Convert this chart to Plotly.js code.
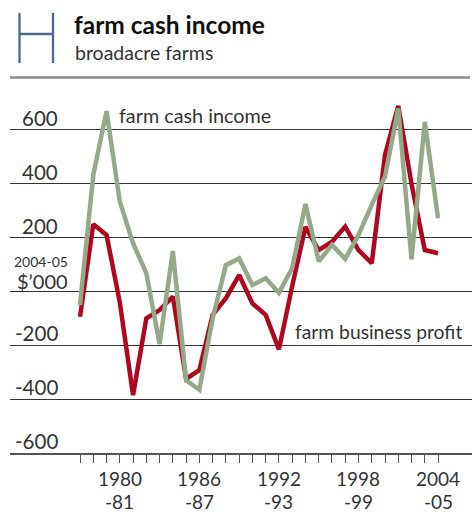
<!DOCTYPE html>
<html>
<head>
<meta charset="utf-8">
<script src="https://cdn.plot.ly/plotly-3.0.1.min.js"></script>
<style>html,body{margin:0;padding:0;background:#fff;}#chart{width:473px;height:512px;}</style>
</head>
<body>
<div id="chart"></div>
<script>
// ---- data ----
const years = [1977,1978,1979,1980,1981,1982,1983,1984,1985,1986,1987,1988,1989,1990,1991,1992,1993,1994,1995,1996,1997,1998,1999,2000,2001,2002,2003,2004];
const farmBusinessProfit = [-94,250,210,-40,-385,-100,-69,-19,-325,-292,-87,-25,61,-44,-87,-215,20,240,154,185,241,154,105,507,690,400,154,142];
const farmCashIncome = [-50,433,670,334,179,68,-195,150,-330,-365,-100,98,123,24,49,-5,87,325,112,173,121,210,322,427,680,120,630,272];
const yTickVals = [-600,-400,-200,0,200,400,600];
const yTickLabels = ['-600','-400','-200','','200','400','600'];
const xLabelYears = [1980,1986,1992,1998,2004];
const xLabelTop = ['1980','1986','1992','1998','2004'];
const xLabelBottom = ['-81','-87','-93','-99','-05'];

// ---- layout helpers (pixel -> paper) ----
const W = 473, H = 512, mL = 10, mR = 1, mT = 95, mB = 59;
const pw = W - mL - mR, ph = H - mT - mB;
const px2x = px => (px - mL) / pw;
const py2y = py => (H - mB - py) / ph;

const FONT = "Lato, 'Open Sans', 'DejaVu Sans', sans-serif";
const TXT = '#333333';

const traces = [
  {x: years, y: farmBusinessProfit, type: 'scatter', mode: 'lines', name: 'farm business profit',
   line: {color: '#b0061f', width: 4.5}, hoverinfo: 'x+y'},
  {x: years, y: farmCashIncome, type: 'scatter', mode: 'lines', name: 'farm cash income',
   line: {color: '#93a98a', width: 4.5}, hoverinfo: 'x+y'}
];

const annotations = [];
// y labels above gridlines
yTickVals.forEach((v, i) => {
  if (!yTickLabels[i]) return;
  annotations.push({xref: 'paper', x: px2x(59), xanchor: 'right', yref: 'y', y: v, yanchor: 'bottom', yshift: -1,
    text: yTickLabels[i], showarrow: false, borderpad: 0, font: {family: FONT, size: 20.5, color: TXT}});
});
// x labels (two lines)
xLabelYears.forEach((yr, i) => {
  annotations.push({xref: 'x', x: yr, xanchor: 'center', yref: 'paper', y: py2y(478), yanchor: 'middle',
    text: xLabelTop[i], showarrow: false, borderpad: 0, font: {family: FONT, size: 19, color: TXT}});
  annotations.push({xref: 'x', x: yr, xanchor: 'center', yref: 'paper', y: py2y(501), yanchor: 'middle',
    text: xLabelBottom[i], showarrow: false, borderpad: 0, font: {family: FONT, size: 19, color: TXT}});
});
// unit label
annotations.push({xref: 'paper', x: px2x(41), xanchor: 'center', yref: 'paper', y: py2y(261), yanchor: 'middle',
  text: '2004-05', showarrow: false, borderpad: 0, font: {family: FONT, size: 14, color: TXT}});
annotations.push({xref: 'paper', x: px2x(42), xanchor: 'center', yref: 'paper', y: py2y(281), yanchor: 'middle',
  text: '$\u2019000', showarrow: false, borderpad: 0, font: {family: FONT, size: 20, color: TXT}});
// series labels
annotations.push({xref: 'paper', x: px2x(117), xanchor: 'left', yref: 'paper', y: py2y(115), yanchor: 'middle',
  text: 'farm cash income', showarrow: false, font: {family: FONT, size: 19.8, color: TXT}});
annotations.push({xref: 'paper', x: px2x(293), xanchor: 'left', yref: 'paper', y: py2y(331), yanchor: 'middle',
  text: 'farm business profit', showarrow: false, font: {family: FONT, size: 19.3, color: TXT}});
// header
annotations.push({xref: 'paper', x: px2x(72), xanchor: 'left', yref: 'paper', y: py2y(24), yanchor: 'middle',
  text: '<b>farm cash income</b>', showarrow: false, font: {family: FONT, size: 24.5, color: '#111'}});
annotations.push({xref: 'paper', x: px2x(73), xanchor: 'left', yref: 'paper', y: py2y(52), yanchor: 'middle',
  text: 'broadacre farms', showarrow: false, font: {family: FONT, size: 19.5, color: TXT}});

const hc = '#4d6986';
const shapes = [
  {type: 'line', xref: 'paper', yref: 'paper', x0: px2x(19.5), x1: px2x(19.5), y0: py2y(13), y1: py2y(63), line: {color: hc, width: 2.3}},
  {type: 'line', xref: 'paper', yref: 'paper', x0: px2x(53), x1: px2x(53), y0: py2y(13), y1: py2y(63), line: {color: hc, width: 2.3}},
  {type: 'line', xref: 'paper', yref: 'paper', x0: px2x(19.5), x1: px2x(53), y0: py2y(34), y1: py2y(34), line: {color: hc, width: 2.3}},
  {type: 'line', xref: 'paper', yref: 'paper', x0: px2x(10), x1: px2x(470), y0: py2y(77.5), y1: py2y(77.5), line: {color: '#8c8c8c', width: 2.5}}
];

const layout = {
  width: W, height: H,
  margin: {l: mL, r: mR, t: mT, b: mB, pad: 0},
  paper_bgcolor: '#fff', plot_bgcolor: '#fff',
  showlegend: false,
  font: {family: FONT, color: TXT},
  xaxis: {
    range: [1971.72, 2006.56], tickvals: years, ticktext: years.map(() => ''),
    ticks: 'outside', ticklen: 8, tickwidth: 1, tickcolor: '#555',
    showgrid: false, zeroline: false, showline: true, linecolor: '#555', linewidth: 1.5,
    fixedrange: true
  },
  yaxis: {
    range: [-600, 730], tickvals: yTickVals, showticklabels: false, ticks: '',
    showgrid: true, gridcolor: '#333', gridwidth: 1, zeroline: false, showline: false,
    fixedrange: true
  },
  annotations: annotations,
  shapes: shapes
};

Plotly.newPlot('chart', traces, layout, {displayModeBar: false, staticPlot: true});
</script>
</body>
</html>
